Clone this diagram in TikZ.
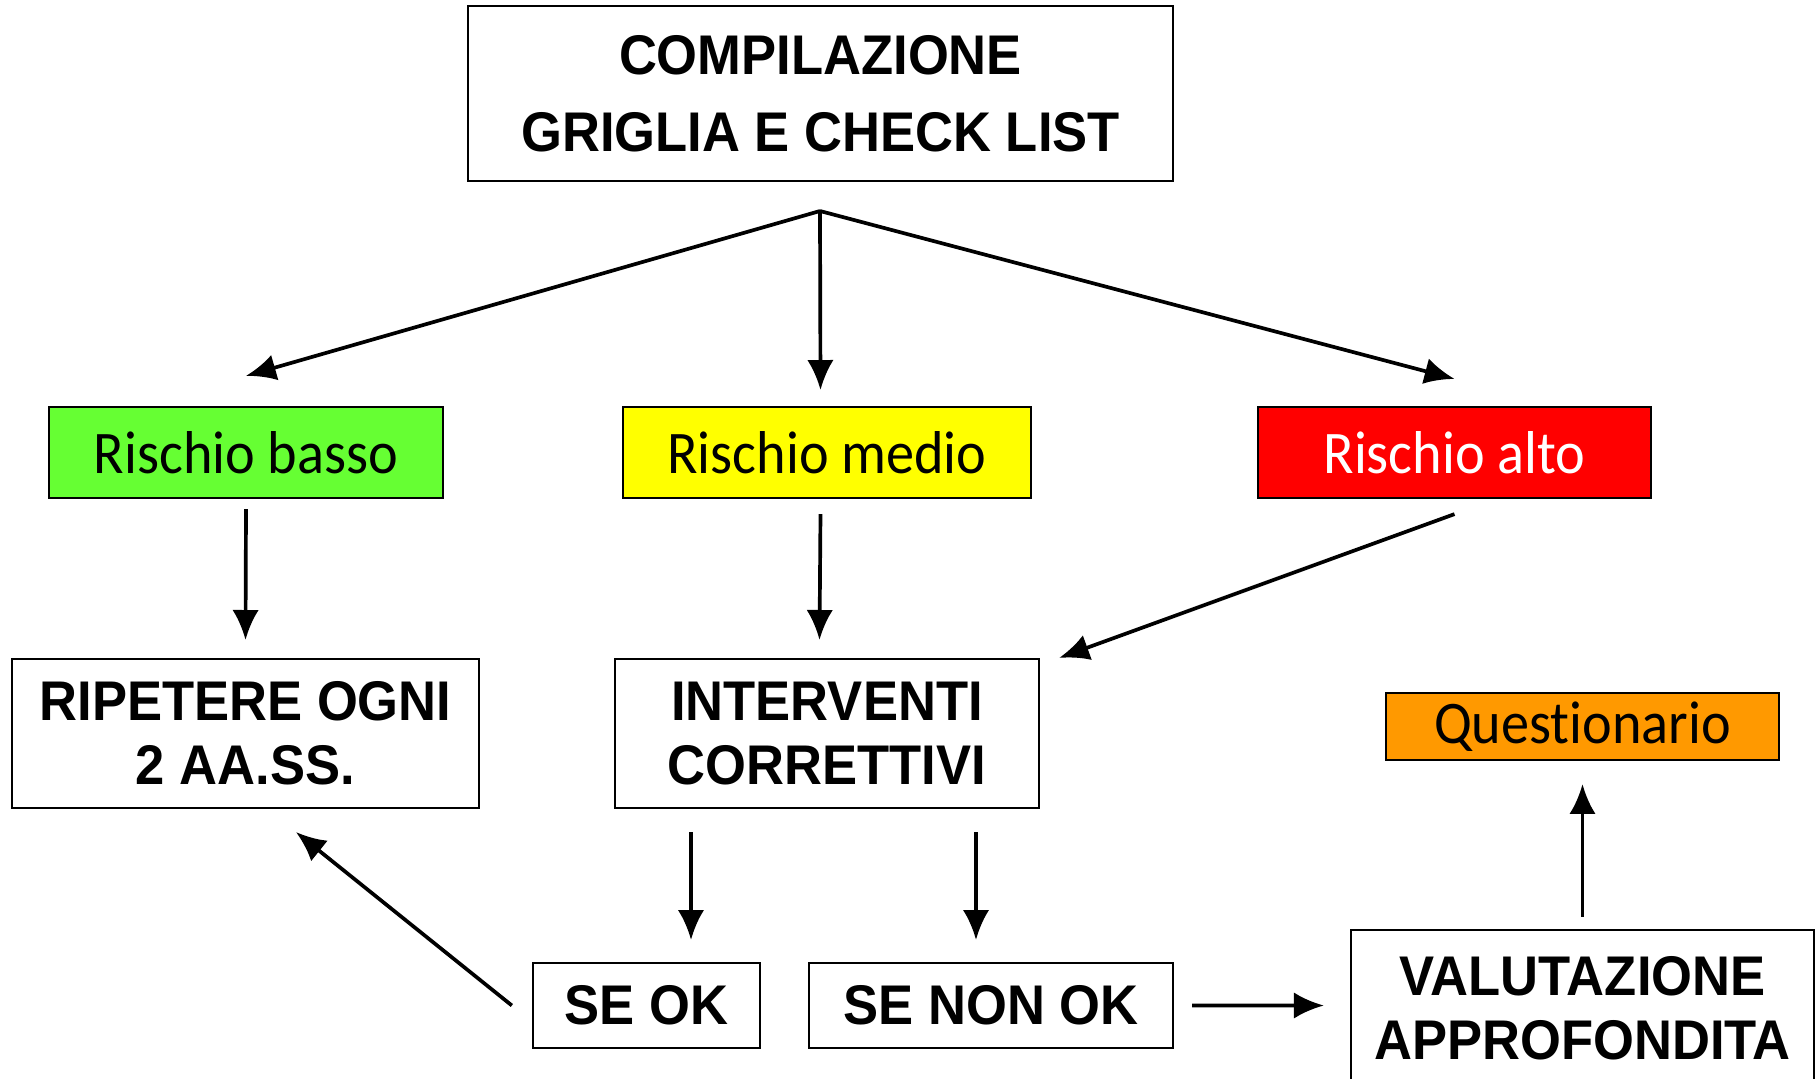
\documentclass[tikz,border=0pt]{standalone}
\usepackage{fontspec}
\usepackage{tikz}
\usetikzlibrary{arrows.meta}
\newfontfamily\capsfont[FakeStretch=0.94]{Liberation Sans}
\newfontfamily\riskfont[FakeStretch=0.93,Ligatures=NoCommon]{Carlito}
\definecolor{bassogreen}{HTML}{66FF33}
\definecolor{medioyellow}{HTML}{FFFF00}
\definecolor{altored}{HTML}{FF0000}
\definecolor{questorange}{HTML}{FF9900}

\begin{document}
\begin{tikzpicture}[x=0.01cm,y=-0.01cm]
    \tikzset{box/.style = {draw, line width=0.6pt, inner sep=0pt, align=center,
        font=\capsfont\bfseries\fontsize{15.9}{18.3}\selectfont}}
    \tikzset{riskbox/.style = {draw, line width=0.6pt, inner sep=0pt, minimum height=0.91cm,
        font=\riskfont\fontsize{17.2}{20}\selectfont}}
    \tikzset{edge/.style = {->, line width=1.05pt, > = {Latex[length=8.5pt,width=7.5pt]}}}
    \useasboundingbox (0,0) rectangle (1817,1078);
    % boxes
    \node[box, minimum width=7.05cm, minimum height=1.75cm,
        font=\capsfont\bfseries\fontsize{15.9}{21.9}\selectfont] (top) at (820.5,93.5) {COMPILAZIONE\\GRIGLIA E CHECK LIST};
    \coordinate (fork) at (820,211);
    \node[riskbox, fill=bassogreen, minimum width=3.94cm] (basso) at (246,452.5) {Rischio basso};
    \node[riskbox, fill=medioyellow, minimum width=4.08cm] (medio) at (827,452.5) {Rischio medio};
    \node[riskbox, fill=altored, text=white, minimum width=3.93cm] (alto) at (1454.5,452.5) {Rischio alto};
    \node[box, minimum width=4.67cm, minimum height=1.49cm] (ripetere) at (245.5,733.5) {RIPETERE OGNI\\2 AA.SS.};
    \node[box, minimum width=4.24cm, minimum height=1.49cm] (interventi) at (827,733.5) {INTERVENTI\\CORRETTIVI};
    \node[riskbox, fill=questorange, minimum width=3.93cm, minimum height=0.67cm] (quest) at (1582.5,726.5) {Questionario};
    \node[box, minimum width=2.27cm, minimum height=0.85cm] (seok) at (646.5,1005.5) {SE OK};
    \node[box, minimum width=3.64cm, minimum height=0.85cm] (senonok) at (991,1005.5) {SE NON OK};
    \node[box, minimum width=4.63cm, minimum height=1.56cm] (valutazione) at (1582.5,1008) {VALUTAZIONE\\APPROFONDITA};
    % edges
    \draw[edge] (fork) -- ([yshift=0.3cm]basso.north);
    \draw[edge] (fork) -- ([xshift=-0.065cm,yshift=0.16cm]medio.north);
    \draw[edge] (fork) -- ([yshift=0.27cm]alto.north);
    \draw[edge] ([yshift=-0.1cm]basso.south) -- ([yshift=0.18cm]ripetere.north);
    \draw[edge] ([xshift=-0.065cm,yshift=-0.15cm]medio.south) -- ([xshift=-0.075cm,yshift=0.18cm]interventi.north);
    \draw[edge] ([yshift=-0.15cm]alto.south) -- ([xshift=0.19cm]interventi.north east);
    \draw[edge] ([xshift=-1.36cm,yshift=-0.23cm]interventi.south) -- ([xshift=0.445cm,yshift=0.22cm]seok.north);
    \draw[edge] ([xshift=1.49cm,yshift=-0.23cm]interventi.south) -- ([xshift=-0.15cm,yshift=0.22cm]senonok.north);
    \draw[edge] ([xshift=-0.2cm]seok.west) -- ([xshift=0.505cm,yshift=-0.23cm]ripetere.south);
    \draw[edge] ([xshift=0.18cm]senonok.east) -- ([xshift=-0.26cm,yshift=0.025cm]valutazione.west);
    \draw[edge] ([yshift=0.12cm]valutazione.north) -- ([yshift=-0.23cm]quest.south);
\end{tikzpicture}
\end{document}
